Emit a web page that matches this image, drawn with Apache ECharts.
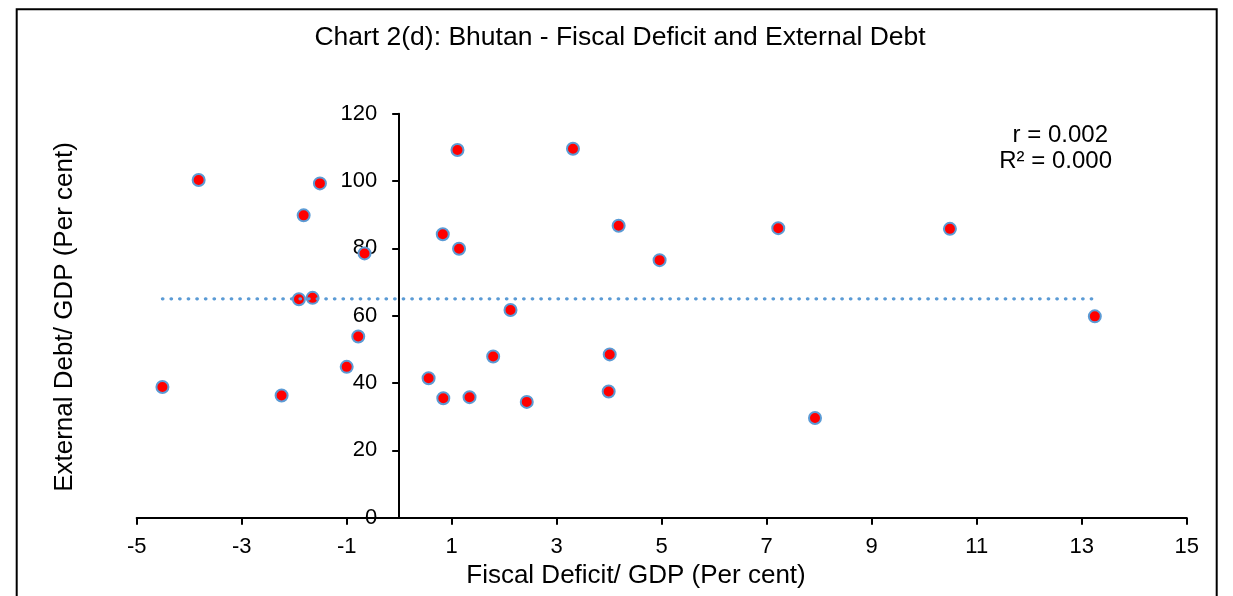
<!DOCTYPE html>
<html>
<head>
<meta charset="utf-8">
<title>Chart 2(d): Bhutan - Fiscal Deficit and External Debt</title>
<script src="https://cdn.jsdelivr.net/npm/echarts@6/dist/echarts.min.js"></script>
<style>
  html, body { margin: 0; padding: 0; background: #ffffff; }
  #chart { width: 1233px; height: 596px; }
</style>
</head>
<body>
<div id="chart"></div>
<script>
// Fiscal deficit (% of GDP) and external debt (% of GDP) per year
const fiscalDeficit = [
  -4.51, -3.82, -2.24, -1.91, -1.82, -1.65, -1.51, -1.00, -0.78, -0.66,
   0.56,  0.83,  0.84,  1.11,  1.14,  1.34,  1.79,  2.12,  2.43,  3.31,
   3.99,  4.01,  4.18,  4.96,  7.22,  7.92, 10.49, 13.25
];
const externalDebt = [
   38.8, 100.3, 36.3, 64.9, 89.8, 65.3, 99.3, 44.8, 53.8, 78.5,
   41.4,  84.2, 35.5, 109.2, 79.9, 35.8, 47.9, 61.7, 34.4, 109.6,
   37.5,  48.5, 86.7, 76.5, 86.0, 29.6, 85.8, 59.8
];

// Linear trend line endpoints (flat: r = 0.002)
const trendX = [-4.51, 13.25];
const trendY = [65.0, 65.0];

// Axis ticks
const xTicks = [-5, -3, -1, 1, 3, 5, 7, 9, 11, 13, 15];
const yTicks = [0, 20, 40, 60, 80, 100, 120];

// Fit statistics shown in the corner
const statLines = ['r = 0.002', 'R\u00B2 = 0.000'];

const FONT = '"Liberation Sans", Arial, sans-serif';

const points = fiscalDeficit.map((x, i) => [x, externalDebt[i]]);
const trend = trendX.map((x, i) => [x, trendY[i]]);

const GRID_LEFT = 136.7;
const GRID_RIGHT = 46.3;
const CHART_W = 1233;

const chart = echarts.init(document.getElementById('chart'), null, { renderer: 'canvas' });

// The vertical axis crosses the horizontal one at x = 0: shift it there with a negative offset
const plotW = CHART_W - GRID_LEFT - GRID_RIGHT;
const xMin = xTicks[0], xMax = xTicks[xTicks.length - 1];
const yAxisShift = (0 - xMin) / (xMax - xMin) * plotW;

chart.setOption({
  animation: false,
  backgroundColor: '#ffffff',
  grid: { left: GRID_LEFT, right: GRID_RIGHT, top: 113.7, bottom: 78.3, containLabel: false },
  xAxis: {
    type: 'value',
    min: xMin,
    max: xMax,
    splitLine: { show: false },
    axisLine: { show: true, onZero: false, lineStyle: { color: '#000000', width: 2 } },
    axisTick: { show: true, inside: false, length: 7, customValues: xTicks, lineStyle: { color: '#000000', width: 2 } },
    axisLabel: { show: true, customValues: xTicks, margin: 18, color: '#000000', fontSize: 22, fontFamily: FONT }
  },
  yAxis: {
    type: 'value',
    position: 'left',
    offset: -yAxisShift,
    min: yTicks[0],
    max: yTicks[yTicks.length - 1],
    interval: 20,
    splitLine: { show: false },
    axisLine: { show: true, onZero: false, lineStyle: { color: '#000000', width: 2 } },
    axisTick: { show: true, inside: false, length: 7, lineStyle: { color: '#000000', width: 2 } },
    axisLabel: { show: true, margin: 22, color: '#000000', fontSize: 22, fontFamily: FONT }
  },
  series: [
    {
      name: 'Fiscal Deficit vs External Debt',
      type: 'scatter',
      data: points,
      symbol: 'circle',
      symbolSize: 12,
      itemStyle: { color: '#ff0000', borderColor: '#5b9bd5', borderWidth: 2, opacity: 1 },
      z: 2
    },
    {
      name: 'Linear trend',
      type: 'line',
      data: trend,
      symbol: 'none',
      silent: true,
      lineStyle: { color: '#5b9bd5', width: 3.3, type: [0.5, 8.1], cap: 'round' },
      z: 3
    }
  ],
  graphic: [
    {
      type: 'rect',
      shape: { x: 16.7, y: 9.3, width: 1200, height: 700 },
      style: { fill: 'none', stroke: '#000000', lineWidth: 2 },
      silent: true,
      z: 0
    },
    {
      type: 'text',
      x: 620, y: 37.5,
      style: {
        text: 'Chart 2(d): Bhutan - Fiscal Deficit and External Debt',
        fill: '#000000', font: '26.5px ' + FONT,
        align: 'center', verticalAlign: 'middle'
      }
    },
    {
      type: 'text',
      x: 636, y: 576,
      style: {
        text: 'Fiscal Deficit/ GDP (Per cent)',
        fill: '#000000', font: '26px ' + FONT,
        align: 'center', verticalAlign: 'middle'
      }
    },
    {
      type: 'text',
      x: 65, y: 317,
      rotation: Math.PI / 2,
      style: {
        text: 'External Debt/ GDP (Per cent)',
        fill: '#000000', font: '26px ' + FONT,
        align: 'center', verticalAlign: 'middle'
      }
    },
    {
      type: 'text',
      x: 1108, y: 135,
      style: {
        text: statLines[0],
        fill: '#000000', font: '24px ' + FONT,
        align: 'right', verticalAlign: 'middle'
      }
    },
    {
      type: 'text',
      x: 1112, y: 161,
      style: {
        text: statLines[1],
        fill: '#000000', font: '24px ' + FONT,
        align: 'right', verticalAlign: 'middle'
      }
    }
  ]
});
</script>
</body>
</html>
